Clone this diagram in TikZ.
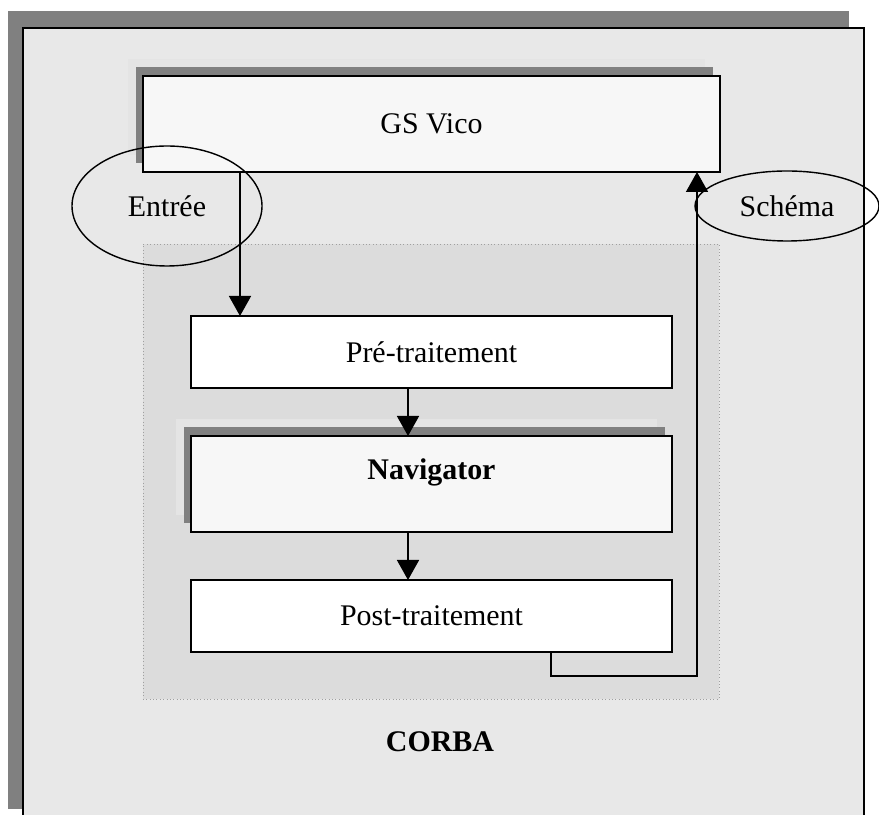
\documentclass[tikz,border=0pt]{standalone}
\usepackage{fontspec}
\setmainfont{Liberation Serif}
\usepackage{tikz}
\usetikzlibrary{arrows.meta, positioning, shadows, shapes.geometric, calc}
\definecolor{ShadowGray}{HTML}{808080}
\definecolor{LightShadow}{HTML}{E4E4E4}
\definecolor{CorbaFill}{HTML}{E8E8E8}
\definecolor{ZoneFill}{HTML}{DCDCDC}
\definecolor{BoxFill}{HTML}{F7F7F7}
\definecolor{DotGray}{HTML}{A0A0A0}

\begin{document}
\begin{tikzpicture}[
  font=\fontsize{21.3}{25}\selectfont,
  corba/.style={rectangle, draw, line width=1.4pt, fill=CorbaFill,
    drop shadow={shadow xshift=-0.375cm, shadow yshift=0.425cm,
      fill=ShadowGray, opacity=1}},
  zone/.style={rectangle, draw=DotGray, dotted, fill=ZoneFill},
  module/.style={rectangle, draw, line width=1.4pt, fill=white,
    outer sep=0pt, minimum width=12.025cm, minimum height=1.8cm},
  raised/.style={fill=BoxFill,
    drop shadow={shadow xshift=-0.375cm, shadow yshift=0.425cm,
      fill=LightShadow, opacity=1},
    drop shadow={shadow xshift=-0.175cm, shadow yshift=0.225cm,
      fill=ShadowGray, opacity=1}},
  bubble/.style={ellipse, draw, line width=1pt, inner sep=0pt},
  flow/.style={-{Triangle[length=0.5cm, width=0.55cm]}, line width=1.1pt}
]

\clip (0,0) rectangle (21.975,20.35);

% CORBA bus and processing zone
\node[corba, minimum width=21.025cm, minimum height=19.95cm] (corba) at (11.0875,9.675) {};
\node[zone, minimum width=14.4cm, minimum height=11.375cm] (zone) at (10.775,8.5625) {};
\node[font=\fontsize{21.3}{25}\selectfont\bfseries] (corbalabel) at (11.0,1.8) {CORBA};

% Modules
\node[module, raised, minimum width=14.425cm, minimum height=2.4cm] (gsvico) at (10.7875,17.25) {GS Vico};
\node[module] (pre) at (10.7875,11.55) {Pré-traitement};
\node[module, raised, minimum height=2.4cm] (nav) at (10.7875,8.25) {};
\node[font=\fontsize{21.3}{25}\selectfont\bfseries] (navlabel) at ([yshift=0.3cm]nav.center) {Navigator};
\node[module] (post) at (10.7875,4.95) {Post-traitement};

% Data exchanged
\node[bubble, minimum width=4.75cm, minimum height=3cm] (entree) at (4.175,15.2) {Entrée\hspace{0.7cm}};
\node[bubble, minimum width=4.6cm, minimum height=1.75cm] (schema) at (19.675,15.2) {Schéma};

% Flow
\draw[flow] ([xshift=2.425cm]gsvico.south west) -- ([xshift=1.225cm]pre.north west);
\draw[flow] ([xshift=5.425cm]pre.south west) -- ([xshift=5.425cm]nav.north west);
\draw[flow] ([xshift=5.425cm]nav.south west) -- ([xshift=5.425cm]post.north west);
\coordinate (corner) at ([xshift=9cm, yshift=-0.6cm]post.south west);
\draw[flow] ([xshift=9cm]post.south west) -- (corner) -| ([xshift=13.85cm]gsvico.south west);

\end{tikzpicture}
\end{document}
